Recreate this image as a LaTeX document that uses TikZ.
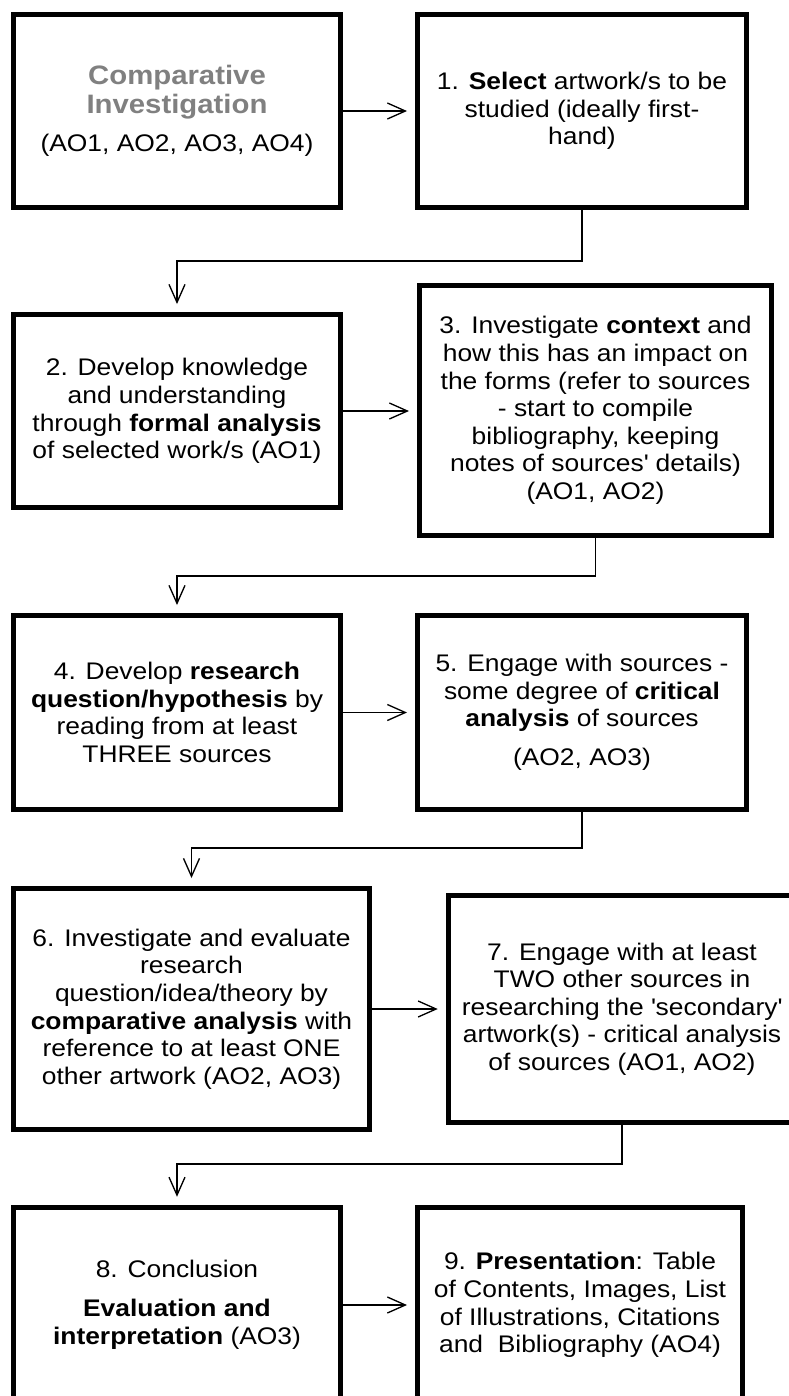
\documentclass[tikz,border=0pt]{standalone}
\usepackage{fontspec}
\setmainfont{Liberation Sans}[FakeStretch=1.1]
\usetikzlibrary{arrows.meta}
\definecolor{titlegray}{RGB}{128,128,128}
\begin{document}
\begin{tikzpicture}[x=0.75pt,y=-0.75pt,
  box/.style={draw, line width=3.75pt, line join=miter, align=center, inner sep=0pt,
    font=\fontsize{18pt}{20.7pt}\selectfont},
  arr/.style={line width=1pt, -{Straight Barb[length=13.5pt,width=12pt]}, shorten >=6pt}]
\useasboundingbox (0,0) rectangle (789,1396);
\clip (0,0) rectangle (789,1396);

\node[box, minimum width=245.6pt, minimum height=144.75pt] (b0) at (177,111)
  {{\fontsize{20pt}{22pt}\selectfont\textcolor{titlegray}{\textbf{Comparative}}}\\[0.5pt]{\fontsize{20pt}{22pt}\selectfont\textcolor{titlegray}{\textbf{Investigation}}}\\[8pt](AO1, AO2, AO3, AO4)};
\node[box, minimum width=246.75pt, minimum height=144.75pt] (b1) at (582,111)
  {1. \textbf{Select} artwork/s to be\\studied (ideally first-\\hand)};
\node[box, minimum width=245.6pt, minimum height=144.75pt] (b2) at (177,411)
  {2. Develop knowledge\\and understanding\\through \textbf{formal analysis}\\of selected work/s (AO1)};
\node[box, minimum width=264pt, minimum height=187.5pt] (b3) at (595.5,410.5)
  {3. Investigate \textbf{context} and\\how this has an impact on\\the forms (refer to sources\\- start to compile\\bibliography, keeping\\notes of sources\textquotesingle{} details)\\(AO1, AO2)};
\node[box, minimum width=245.6pt, minimum height=145.5pt] (b4) at (177,712.5)
  {4. Develop \textbf{research}\\\textbf{question/hypothesis} by\\reading from at least\\THREE sources};
\node[box, minimum width=246.75pt, minimum height=145.5pt] (b5) at (582,712.5)
  {5. Engage with sources -\\some degree of \textbf{critical}\\\textbf{analysis} of sources\\[8.5pt](AO2, AO3)};
\node[box, minimum width=267pt, minimum height=180.75pt] (b6) at (191.5,1009)
  {6. Investigate and evaluate\\research\\question/idea/theory by\\\textbf{comparative analysis} with\\reference to at least ONE\\other artwork (AO2, AO3)};
\node[box, minimum width=260.6pt, minimum height=170.25pt] (b7) at (622,1009)
  {7. Engage with at least\\TWO other sources in\\researching the \textquotesingle secondary\textquotesingle\\artwork(s) - critical analysis\\of sources (AO1, AO2)};
\node[box, minimum width=245.6pt, minimum height=146.6pt] (b8) at (177,1305)
  {8. Conclusion\\[8.5pt]\textbf{Evaluation and}\\\textbf{interpretation} (AO3)};
\node[box, minimum width=243.75pt, minimum height=146.6pt] (b9) at (580,1305)
  {9. \textbf{Presentation}: Table\\of Contents, Images, List\\of Illustrations, Citations\\and\ \ Bibliography (AO4)};

\draw[arr] (b0.east) -- (b1.west |- b0.east);
\draw[arr] (b2.east) -- (b3.west |- b2.east);
\draw[arr] (b4.east) -- (b5.west |- b4.east);
\draw[arr] (b6.east) -- (b7.west |- b6.east);
\draw[arr] (b8.east) -- (b9.west |- b8.east);

\draw[arr] (b1.south) |- (b2.north |- 0,261) -- (b2.north);
\draw[arr] (b3.south) |- (b4.north |- 0,576) -- (b4.north);
\draw[arr] (b5.south) |- (b6.north |- 0,848) -- (b6.north);
\draw[arr] (b7.south) |- (b8.north |- 0,1164) -- (b8.north);
\end{tikzpicture}
\end{document}
